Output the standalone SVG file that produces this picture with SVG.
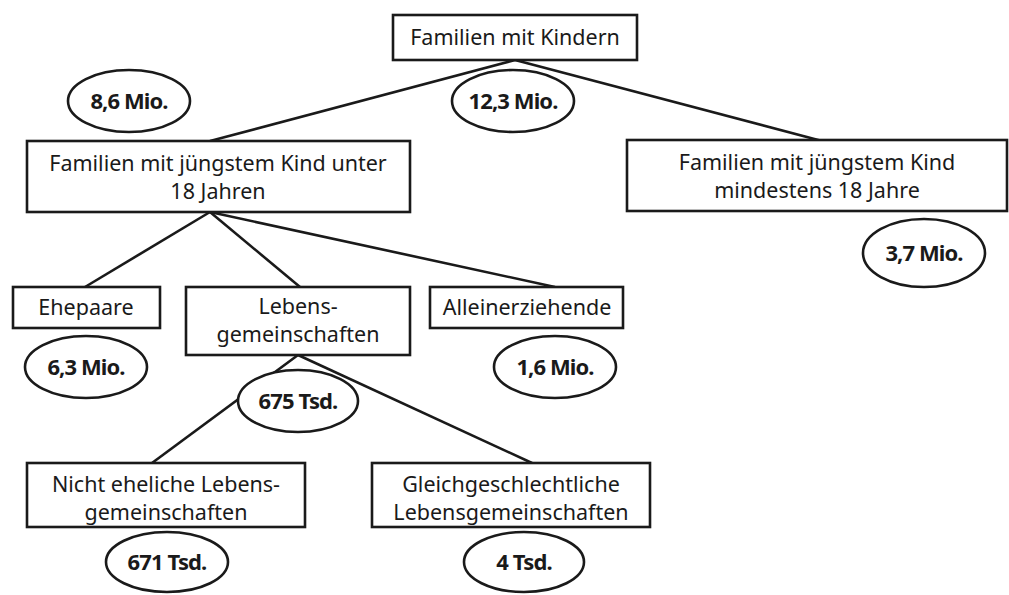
<svg xmlns="http://www.w3.org/2000/svg" width="1009" height="595" viewBox="0 0 1009 595">
<style>
.box{fill:#fff;stroke:#1a1a1a;stroke-width:2.6}
.ell{fill:#fff;stroke:#1a1a1a;stroke-width:2.6}
.t{font-family:"Noto Sans","Open Sans",sans-serif;font-size:21.5px;fill:#1a1a1a;text-anchor:middle}
.b{font-family:"Noto Sans","Open Sans",sans-serif;font-size:22px;font-weight:bold;fill:#1a1a1a;text-anchor:middle;letter-spacing:-0.9px}
.c{stroke:#1a1a1a;stroke-width:2.6;fill:none}
</style>
<rect width="1009" height="595" fill="#fff"/>
<g id="connectors">
<line class="c" x1="515" y1="60" x2="210" y2="141"/>
<line class="c" x1="515" y1="60" x2="822" y2="141"/>
<line class="c" x1="210" y1="212" x2="85" y2="287"/>
<line class="c" x1="210" y1="212" x2="300" y2="287"/>
<line class="c" x1="210" y1="212" x2="555" y2="287"/>
<line class="c" x1="298" y1="355" x2="152" y2="463"/>
<line class="c" x1="298" y1="355" x2="532" y2="463"/>
</g>
<g id="n-root"><rect class="box" x="393" y="15" width="244" height="45"/><text class="t" x="515" y="45">Familien mit Kindern</text></g>
<g id="v-root"><ellipse class="ell" cx="513" cy="101" rx="61" ry="31"/><text class="b" x="513" y="109">12,3 Mio.</text></g>
<g id="n-unter18"><rect class="box" x="27" y="141" width="383" height="71"/><text class="t" x="218" y="171">Familien mit jüngstem Kind unter</text><text class="t" x="218" y="199">18 Jahren</text></g>
<g id="v-unter18"><ellipse class="ell" cx="129" cy="101" rx="61" ry="31"/><text class="b" x="129" y="109">8,6 Mio.</text></g>
<g id="n-ab18"><rect class="box" x="627" y="140" width="380" height="71"/><text class="t" x="817" y="170">Familien mit jüngstem Kind</text><text class="t" x="817" y="198">mindestens 18 Jahre</text></g>
<g id="v-ab18"><ellipse class="ell" cx="924" cy="253" rx="61" ry="34"/><text class="b" x="924" y="261">3,7 Mio.</text></g>
<g id="n-ehe"><rect class="box" x="13" y="287" width="147" height="41"/><text class="t" x="86" y="315">Ehepaare</text></g>
<g id="v-ehe"><ellipse class="ell" cx="86" cy="367" rx="61" ry="31"/><text class="b" x="86" y="375">6,3 Mio.</text></g>
<g id="n-leb"><rect class="box" x="186" y="287" width="224" height="68"/><text class="t" x="298" y="314">Lebens-</text><text class="t" x="298" y="342">gemeinschaften</text></g>
<g id="v-leb"><ellipse class="ell" cx="298" cy="401" rx="60" ry="31"/><text class="b" x="298" y="409">675 Tsd.</text></g>
<g id="n-allein"><rect class="box" x="430" y="287" width="193" height="41"/><text class="t" x="527" y="315">Alleinerziehende</text></g>
<g id="v-allein"><ellipse class="ell" cx="555" cy="367" rx="61" ry="31"/><text class="b" x="555" y="375">1,6 Mio.</text></g>
<g id="n-nichtehe"><rect class="box" x="27" y="463" width="278" height="64"/><text class="t" x="166" y="492">Nicht eheliche Lebens-</text><text class="t" x="166" y="520">gemeinschaften</text></g>
<g id="v-nichtehe"><ellipse class="ell" cx="167" cy="562" rx="61" ry="30"/><text class="b" x="167" y="570">671 Tsd.</text></g>
<g id="n-gleich"><rect class="box" x="372" y="463" width="278" height="64"/><text class="t" x="511" y="492">Gleichgeschlechtliche</text><text class="t" x="511" y="520">Lebensgemeinschaften</text></g>
<g id="v-gleich"><ellipse class="ell" cx="524" cy="562" rx="60" ry="30"/><text class="b" x="524" y="570">4 Tsd.</text></g>
</svg>
